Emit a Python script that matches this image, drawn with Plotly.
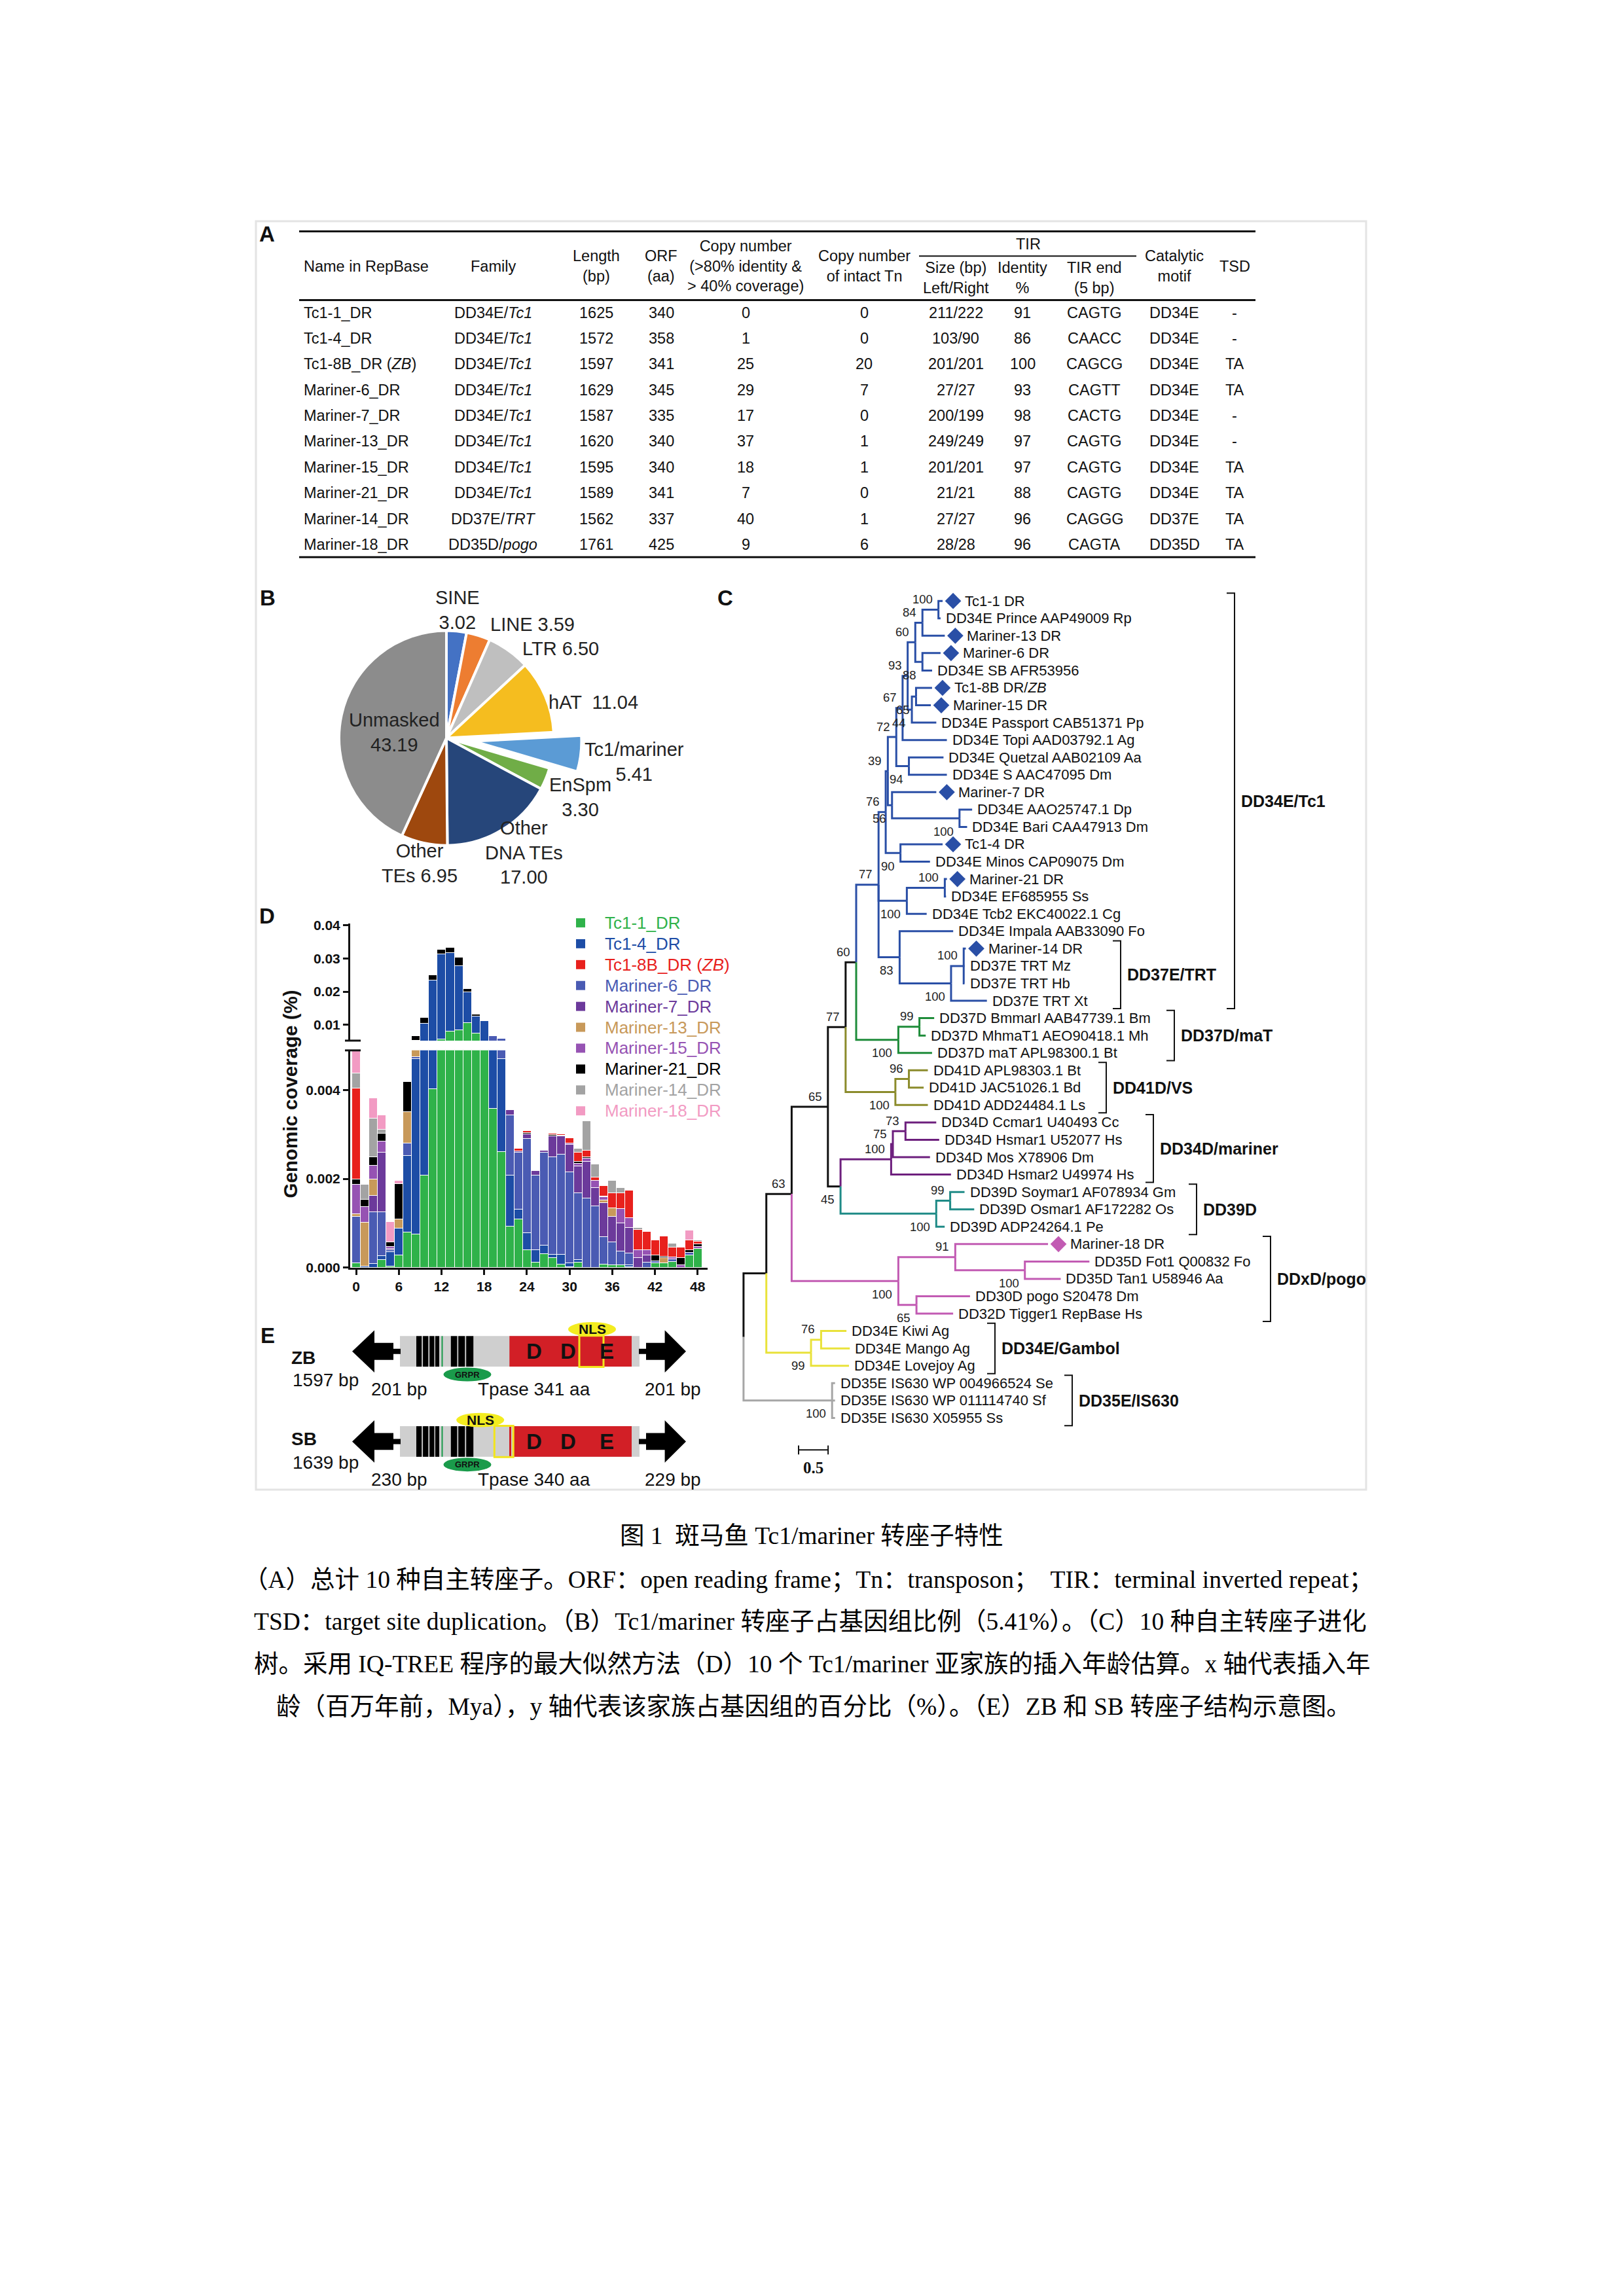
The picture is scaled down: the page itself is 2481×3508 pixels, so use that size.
import plotly.graph_objects as go

W, H = 2481, 3508
SANS = "Liberation Sans, Arial, sans-serif"
SERIF = "Liberation Serif, Times New Roman, Noto Sans CJK SC, serif"
INK = "#111111"

# ======================= Panel A : table data =======================
tbl_names = ["Tc1-1_DR", "Tc1-4_DR", "Tc1-8B_DR (<i>ZB</i>)", "Mariner-6_DR", "Mariner-7_DR",
             "Mariner-13_DR", "Mariner-15_DR", "Mariner-21_DR", "Mariner-14_DR", "Mariner-18_DR"]
tbl_family = ["DD34E/<i>Tc1</i>", "DD34E/<i>Tc1</i>", "DD34E/<i>Tc1</i>", "DD34E/<i>Tc1</i>",
              "DD34E/<i>Tc1</i>", "DD34E/<i>Tc1</i>", "DD34E/<i>Tc1</i>", "DD34E/<i>Tc1</i>",
              "DD37E/<i>TRT</i>", "DD35D/<i>pogo</i>"]
tbl_length = [1625, 1572, 1597, 1629, 1587, 1620, 1595, 1589, 1562, 1761]
tbl_orf = [340, 358, 341, 345, 335, 340, 340, 341, 337, 425]
tbl_copy = [0, 1, 25, 29, 17, 37, 18, 7, 40, 9]
tbl_intact = [0, 0, 20, 7, 0, 1, 1, 0, 1, 6]
tbl_tir_size = ["211/222", "103/90", "201/201", "27/27", "200/199", "249/249", "201/201", "21/21", "27/27", "28/28"]
tbl_tir_ident = [91, 86, 100, 93, 98, 97, 97, 88, 96, 96]
tbl_tir_end = ["CAGTG", "CAACC", "CAGCG", "CAGTT", "CACTG", "CAGTG", "CAGTG", "CAGTG", "CAGGG", "CAGTA"]
tbl_motif = ["DD34E", "DD34E", "DD34E", "DD34E", "DD34E", "DD34E", "DD34E", "DD34E", "DD37E", "DD35D"]
tbl_tsd = ["-", "-", "TA", "TA", "-", "-", "TA", "TA", "TA", "TA"]

# ======================= Panel B : pie data =======================
pie_labels = ["SINE", "LINE", "LTR", "hAT", "Tc1/mariner", "EnSpm", "Other DNA TEs", "Other TEs", "Unmasked"]
pie_values = [3.02, 3.59, 6.50, 11.04, 5.41, 3.30, 17.00, 6.95, 43.19]
pie_colors = ["#4472c4", "#ed7d31", "#bfbfbf", "#f5bd1f", "#5b9bd5", "#70ad47", "#26467a", "#9e480e", "#8c8c8c"]
pie_pull = [0, 0, 0, 0, 0.26, 0, 0, 0, 0]
pie_label_fmt = ["SINE<br>{v}", "LINE {v}", "LTR {v}", "hAT  {v}", "Tc1/mariner<br>{v}",
                 "EnSpm<br>{v}", "Other<br>DNA TEs<br>{v}", "Other<br>TEs {v}", "Unmasked<br>{v}"]

# ======================= Panel D : insertion age (units of 0.001 %) =======================
age_mya = [0.0, 1.2, 2.4, 3.6, 4.8, 6.0, 7.2, 8.4, 9.6, 10.8, 12.0, 13.2, 14.4, 15.6, 16.8, 18.0,
           19.2, 20.4, 21.6, 22.8, 24.0, 25.2, 26.4, 27.6, 28.8, 30.0, 31.2, 32.4, 33.6, 34.8,
           36.0, 37.2, 38.4, 39.6, 40.8, 42.0, 43.2, 44.4, 45.6, 46.8, 48.0]
tc1_1 = [0.11, 0, 0, 0.19, 0.03, 0.28, 0.80, 0.76, 2.09, 4.02, 5.75, 8.17, 8.50, 10.60, 7.40, 5.00,
         3.58, 2.62, 0.94, 1.09, 0.40, 0.13, 0.32, 0.23, 0.08, 0.02, 0.13, 0, 0, 0.08,
         0.06, 0.06, 0.02, 0, 0, 0.11, 0.11, 0.14, 0, 0.28, 0.43]
tc1_4 = [0, 0.04, 0.09, 0.08, 0.33, 0.61, 1.73, 3.94, 8.41, 19.48, 25.65, 23.50, 19.30, 9.30, 5.30, 6.20,
         1.62, 2.08, 1.15, 0.23, 0.39, 0.27, 0.19, 0.07, 0.22, 0.09, 0.05, 0, 0, 0,
         0, 0, 0.04, 0, 0, 0, 0, 0, 0, 0, 0]
tc1_8b = [2.04, 0, 0, 0, 0, 0, 0, 0, 0, 0.20, 0, 0, 0, 0, 0, 0,
          0, 0, 0, 0.05, 0.04, 0, 0, 0.04, 0.03, 0.11, 0.21, 0.14, 0.08, 0.23,
          0.34, 0.35, 0.61, 0.45, 0.40, 0.35, 0.47, 0.23, 0.25, 0.21, 0.07]
mar6 = [1.05, 0, 1.17, 0.99, 0.04, 0, 0.27, 0.05, 0, 0, 0, 0, 0, 0, 0, 0,
        1.47, 1.30, 1.34, 1.28, 2.12, 1.68, 2.09, 2.20, 2.25, 2.05, 1.50, 1.57, 1.39, 0.62,
        0.52, 0.32, 0.27, 0, 0.13, 0.05, 0, 0.06, 0, 0.06, 0]
mar7 = [0, 0, 0.37, 1.34, 0.04, 0, 0, 0, 0, 0, 0, 0, 0, 0, 0, 0,
        0, 0, 0.12, 0.03, 0.10, 0.11, 0.04, 0.46, 0.41, 0.61, 0.61, 0.82, 0.42, 0.77,
        0.58, 0.63, 0.58, 0.22, 0.15, 0, 0, 0, 0, 0, 0]
mar13 = [0.05, 0.98, 0.36, 0, 0, 0.20, 0.71, 0.55, 0, 0, 0, 0, 0, 0, 0, 0,
         0, 0, 0, 0, 0, 0, 0, 0, 0, 0, 0, 0, 0, 0.05,
         0.19, 0, 0, 0, 0, 0, 0.11, 0, 0, 0, 0]
mar15 = [0.66, 0.36, 0.32, 0.25, 0.04, 0, 0, 0, 0, 0, 0, 0, 0, 0, 0, 0,
         0, 0, 0, 0, 0, 0, 0, 0, 0, 0.04, 0.06, 0.07, 0.15, 0.07,
         0, 0.32, 0.22, 0.19, 0.13, 0, 0, 0.04, 0.06, 0, 0.05]
mar21 = [0.13, 0.16, 0.19, 0.18, 0.10, 0.80, 0.68, 1.40, 1.80, 1.50, 1.30, 1.60, 2.50, 1.00, 0.50, 0,
         0, 0, 0, 0, 0.03, 0, 0, 0.03, 0.02, 0, 0.04, 0.04, 0, 0.02,
         0, 0, 0, 0, 0, 0.12, 0.03, 0, 0.16, 0.07, 0.05]
mar14 = [0.34, 0.33, 0.86, 0.08, 0, 0, 0, 0, 0, 0, 0, 0, 0, 0, 0, 0,
         0, 0, 0, 0, 0, 0, 0, 0, 0, 0, 0.09, 0.66, 0.29, 0,
         0.27, 0.13, 0, 0.05, 0, 0, 0, 0.08, 0, 0, 0.02]
mar18 = [0.62, 0, 0.46, 0.33, 0.46, 0.08, 0, 0, 0, 0, 0, 0, 0, 0, 0, 0,
         0, 0, 0, 0, 0, 0, 0, 0, 0, 0, 0, 0, 0, 0,
         0, 0, 0, 0, 0, 0, 0, 0, 0, 0.23, 0]
UNIT = 0.001  # values above are in units of 0.001 %

series = {  # name: (values, colour)
    "Tc1-1_DR": (tc1_1, "#2fb24a"),
    "Tc1-4_DR": (tc1_4, "#1d4da6"),
    "Tc1-8B_DR (<i>ZB</i>)": (tc1_8b, "#e8211d"),
    "Mariner-6_DR": (mar6, "#4a5bb3"),
    "Mariner-7_DR": (mar7, "#6c3a9b"),
    "Mariner-13_DR": (mar13, "#c8995a"),
    "Mariner-15_DR": (mar15, "#9653b3"),
    "Mariner-21_DR": (mar21, "#000000"),
    "Mariner-14_DR": (mar14, "#a3a3a3"),
    "Mariner-18_DR": (mar18, "#f29bc3"),
}
stack_order = ["Tc1-1_DR", "Tc1-4_DR", "Mariner-6_DR", "Mariner-7_DR", "Mariner-13_DR",
               "Mariner-15_DR", "Mariner-21_DR", "Tc1-8B_DR (<i>ZB</i>)", "Mariner-14_DR", "Mariner-18_DR"]
legend_order = list(series.keys())

# ======================= Panel C : tree (branch lengths, bootstrap) =======================
def tip(name, bl, dr=False):
    return {"name": name, "bl": bl, "dr": dr, "kids": []}

def node(bl, sup, pos, kids, clade=None):
    return {"bl": bl, "sup": sup, "pos": pos, "kids": kids, "clade": clade}

TREE = node(0.0, None, "a", [
    node(0.386, None, "a", [
        node(0.429, 63, "a", [
            node(0.614, 65, "a", [
                node(0.300, 77, "a", [
                    node(0.179, 60, "a", [
                        node(0.379, 77, "a", [
                            node(0.121, 76, "a", [
                                node(0.036, 39, "a", [
                                    node(0.143, 72, "a", [
                                        node(0.107, 67, "a", [
                                            node(0.086, 93, "a", [
                                                node(0.129, 60, "a", [
                                                    node(0.121, 84, "a", [
                                                        node(0.271, 100, "a", [
                                                            tip("Tc1-1 DR", 0.071, True),
                                                            tip("DD34E Prince AAP49009 Rp", 0.036)]),
                                                        tip("Mariner-13 DR", 0.379, True)]),
                                                    node(0.121, 88, "b", [
                                                        tip("Mariner-6 DR", 0.307, True),
                                                        tip("DD34E SB AFR53956", 0.164)])]),
                                                node(0.071, 44, "b", [
                                                    node(0.071, 65, "b", [
                                                        tip("Tc1-8B DR/<i>ZB</i>", 0.271, True),
                                                        tip("Mariner-15 DR", 0.250, True)]),
                                                    tip("DD34E Passport CAB51371 Pp", 0.414)])]),
                                            tip("DD34E Topi AAD03792.1 Ag", 0.750)]),
                                        node(0.214, 94, "b", [
                                            tip("DD34E Quetzal AAB02109 Aa", 0.586),
                                            tip("DD34E S AAC47095 Dm", 0.643)])]),
                                    node(0.071, 56, "b", [
                                        tip("Mariner-7 DR", 0.750, True),
                                        node(1.143, 100, "b", [
                                            tip("DD34E AAO25747.1 Dp", 0.214),
                                            tip("DD34E Bari CAA47913 Dm", 0.129)])])]),
                                node(0.250, 90, "b", [
                                    tip("Tc1-4 DR", 0.714, True),
                                    tip("DD34E Minos CAP09075 Dm", 0.500)])]),
                            node(0.479, 100, "b", [
                                node(0.643, 100, "a", [
                                    tip("Mariner-21 DR", 0.036, True),
                                    tip("DD34E EF685955 Ss", 0.021)]),
                                tip("DD34E Tcb2 EKC40022.1 Cg", 0.336)]),
                            node(0.357, 83, "b", [
                                tip("DD34E Impala AAB33090 Fo", 0.907),
                                node(0.871, 100, "b", [
                                    node(0.214, 100, "a", [
                                        tip("Mariner-14 DR", 0.036, True),
                                        tip("DD37E TRT Mz", 0.014),
                                        tip("DD37E TRT Hb", 0.014)]),
                                    tip("DD37E TRT Xt", 0.607)])])], clade="tc1"),
                        node(0.714, 100, "b", [
                            node(0.357, 99, "a", [
                                tip("DD37D BmmarI AAB47739.1 Bm", 0.250),
                                tip("DD37D MhmaT1 AEO90418.1 Mh", 0.107)]),
                            tip("DD37D maT APL98300.1 Bt", 0.571)], clade="mat")]),
                    node(0.843, 100, "b", [
                        node(0.229, 96, "a", [
                            tip("DD41D APL98303.1 Bt", 0.321),
                            tip("DD41D JAC51026.1 Bd", 0.250)]),
                        tip("DD41D ADD24484.1 Ls", 0.550)], clade="vs")]),
                node(0.214, 45, "b", [
                    node(0.857, 100, "a", [
                        node(0.029, 75, "a", [
                            node(0.214, 73, "a", [
                                tip("DD34D Ccmar1 U40493 Cc", 0.521),
                                tip("DD34D Hsmar1 U52077 Hs", 0.571)]),
                            tip("DD34D Mos X78906 Dm", 0.629)]),
                        tip("DD34D Hsmar2 U49974 Hs", 1.014)], clade="mariner"),
                    node(1.621, 100, "b", [
                        node(0.236, 99, "a", [
                            tip("DD39D Soymar1 AF078934 Gm", 0.243),
                            tip("DD39D Osmar1 AF172282 Os", 0.407)]),
                        tip("DD39D ADP24264.1 Pe", 0.143)], clade="dd39d")])]),
            node(1.807, 100, "b", [
                node(0.964, 91, "a", [
                    tip("Mariner-18 DR", 1.571, True),
                    node(1.179, 100, "b", [
                        tip("DD35D Fot1 Q00832 Fo", 1.093),
                        tip("DD35D Tan1 U58946 Aa", 0.607)])]),
                node(0.307, 65, "b", [
                    tip("DD30D pogo S20478 Dm", 0.907),
                    tip("DD32D Tigger1 RepBase Hs", 0.621)])], clade="pogo")]),
        node(0.757, 99, "b", [
            node(0.171, 76, "a", [
                tip("DD34E Kiwi Ag", 0.429),
                tip("DD34E Mango Ag", 0.486)]),
            tip("DD34E Lovejoy Ag", 0.643)], clade="gambol")]),
    node(1.500, 100, "b", [
        tip("DD35E IS630 WP 004966524 Se", 0.050),
        tip("DD35E IS630 WP 011114740 Sf", 0.050),
        tip("DD35E IS630 X05955 Ss", 0.050)], clade="is630")])

clade_colors = {None: "#111111", "tc1": "#2a4fa6", "mat": "#1e8c3a", "vs": "#8b8b2b",
                "mariner": "#6d1f7d", "dd39d": "#1f8b87", "pogo": "#c25bb3",
                "gambol": "#e9e23a", "is630": "#a6a6a6"}
brackets = [("DD34E/Tc1", 0, 23), ("DD37E/TRT", 20, 23), ("DD37D/maT", 24, 26), ("DD41D/VS", 27, 29),
            ("DD34D/mariner", 30, 33), ("DD39D", 34, 36), ("DDxD/pogo", 37, 41),
            ("DD34E/Gambol", 42, 44), ("DD35E/IS630", 45, 47)]
bracket_x = [1886, 1712, 1794, 1690, 1762, 1828, 1941, 1520, 1638]
SCALE_BAR = 0.5

# ======================= Panel E : construct data =======================
constructs = [
    {"name": "ZB", "length": 1597, "tir_l": 201, "tir_r": 201, "tpase": 341, "nls": "C"},
    {"name": "SB", "length": 1639, "tir_l": 230, "tir_r": 229, "tpase": 340, "nls": "N"},
]

# ======================= Figure helpers =======================
fig = go.Figure()
ann, shp = [], []
PG = dict(xref="x3", yref="y3")

def text(x, y, s, size, color=INK, family=SANS, xa="center", ya="middle", weight="normal", angle=0):
    ann.append(dict(x=x, y=y, text=s, showarrow=False, xanchor=xa, yanchor=ya, textangle=angle,
                    font=dict(family=family, size=size, color=color, weight=weight), **PG))

def hline(x0, x1, y, color=INK, width=3):
    shp.append(dict(type="line", x0=x0, x1=x1, y0=y, y1=y, line=dict(color=color, width=width), **PG))

def box(x0, y0, x1, y1, fill=None, lc=None, lw=0):
    shp.append(dict(type="rect", x0=x0, x1=x1, y0=y0, y1=y1, fillcolor=fill or "rgba(0,0,0,0)",
                    line=dict(color=lc or "rgba(0,0,0,0)", width=lw), **PG))

def ellipse(cx, cy, rx, ry, fill):
    shp.append(dict(type="circle", x0=cx - rx, x1=cx + rx, y0=cy - ry, y1=cy + ry, fillcolor=fill,
                    line=dict(width=0), **PG))

def path(d, fill=None, lc=None, lw=0):
    shp.append(dict(type="path", path=d, fillcolor=fill or "rgba(0,0,0,0)",
                    line=dict(color=lc or "rgba(0,0,0,0)", width=lw), **PG))

# outer light frame
box(391, 331, 2087, 2280, lc="#e4e4e4", lw=3)

for lab, x, y in [("A", 408, 350), ("B", 409, 910), ("C", 1108, 910), ("D", 408, 1398), ("E", 409, 2043)]:
    text(x, y, lab, 33, weight="bold")

# ======================= Panel A =======================
TFS = 23.5
TY = -4
hline(457, 1918, 350.6 + TY, width=3)
hline(457, 1918, 456.2 + TY, width=3)
hline(457, 1918, 851 + TY, width=3)
hline(1404, 1736, 388.5 + TY, width=2)
text(462, 404 + TY, "Name in RepBase", TFS, xa="left")
text(753, 404 + TY, "Family", TFS)
text(911, 404 + TY, "Length<br>(bp)", TFS)
text(1010, 404 + TY, "ORF<br>(aa)", TFS)
text(1139, 404 + TY, "Copy number<br>(>80% identity &<br>> 40% coverage)", TFS)
text(1320, 404 + TY, "Copy number<br>of intact Tn", TFS)
text(1571, 369.6 + TY, "TIR", TFS)
text(1460, 422 + TY, "Size (bp)<br>Left/Right", TFS)
text(1562, 422 + TY, "Identity<br>%", TFS)
text(1672, 422 + TY, "TIR end<br>(5 bp)", TFS)
text(1794, 404 + TY, "Catalytic<br>motif", TFS)
text(1886, 404 + TY, "TSD", TFS)
col_x = [753, 911, 1010, 1139, 1320, 1460, 1562, 1672, 1794, 1886]
for i in range(len(tbl_names)):
    y = 475.2 + 39.6 * i + TY
    text(462, y, tbl_names[i], TFS, xa="left")
    vals = [tbl_family[i], tbl_length[i], tbl_orf[i], tbl_copy[i], tbl_intact[i], tbl_tir_size[i],
            tbl_tir_ident[i], tbl_tir_end[i], tbl_motif[i], tbl_tsd[i]]
    for cx, v in zip(col_x, vals):
        text(cx, y, str(v), TFS)

# ======================= Panel B =======================
PIE_C, PIE_R = (682, 1125), 165
half = PIE_R * (1 + max(pie_pull))
fig.add_trace(go.Pie(labels=pie_labels, values=pie_values, sort=False, direction="clockwise", rotation=0,
                     pull=pie_pull, textinfo="none", hoverinfo="skip", showlegend=False,
                     marker=dict(colors=pie_colors, line=dict(color="white", width=4)),
                     domain=dict(x=[(PIE_C[0] - half) / W, (PIE_C[0] + half) / W],
                                 y=[1 - (PIE_C[1] + half) / H, 1 - (PIE_C[1] - half) / H])))
pie_label_pos = [(699, 928), (813, 950), (856, 988), (836, 1070), (969, 1162), (886, 1216),
                 (800, 1301), (641, 1318), (602, 1116)]
for i, (x, y) in enumerate(pie_label_pos):
    s = pie_label_fmt[i].format(v="%.2f" % pie_values[i])
    text(x, y, s, 29, color="#222222", xa="left" if i == 3 else "center")

# ======================= Panel C =======================
X0, PXU = 1135.9, 90.2
TIP_Y0, TIP_DY = 914.4, 26.71
counter = [0]

def place(nd, depth, color):
    depth += nd["bl"]
    nd["x"] = X0 + depth * PXU
    nd["col"] = clade_colors[nd["clade"]] if nd.get("clade") else color
    if not nd["kids"]:
        nd["y"] = TIP_Y0 + TIP_DY * counter[0]
        counter[0] += 1
    else:
        for k in nd["kids"]:
            place(k, depth, nd["col"])
        nd["y"] = (nd["kids"][0]["y"] + nd["kids"][-1]["y"]) / 2

place(TREE, 0.0, clade_colors[None])
segs = {}
tips = []

def walk(nd):
    if not nd["kids"]:
        tips.append(nd)
        return
    for k in nd["kids"]:
        segs.setdefault(k["col"], ([], []))
        xs, ys = segs[k["col"]]
        xs += [nd["x"], nd["x"], k["x"], None]
        ys += [nd["y"], k["y"], k["y"], None]
        walk(k)
    if nd["sup"] is not None:
        dy = -16 if nd["pos"] == "a" else 20
        text(nd["x"] - 7, nd["y"] + dy, str(nd["sup"]), 18.5, color="#222222", xa="right")

walk(TREE)
for col, (xs, ys) in segs.items():
    fig.add_trace(go.Scatter(x=xs, y=ys, mode="lines", line=dict(color=col, width=3),
                             hoverinfo="skip", showlegend=False, xaxis="x3", yaxis="y3"))
dx, dy_, dc = [], [], []
LEAF_FS = 22
for t in tips:
    if t["dr"]:
        dx.append(t["x"] + 16)
        dy_.append(t["y"])
        dc.append(t["col"])
        text(t["x"] + 32, t["y"], t["name"], LEAF_FS, xa="left")
    else:
        text(t["x"] + 6, t["y"], t["name"], LEAF_FS, xa="left")
fig.add_trace(go.Scatter(x=dx, y=dy_, mode="markers", marker=dict(symbol="diamond", size=19, color=dc),
                         hoverinfo="skip", showlegend=False, xaxis="x3", yaxis="y3"))
for (lab, i0, i1), bx in zip(brackets, bracket_x):
    y0 = TIP_Y0 + TIP_DY * i0 - 12
    y1 = TIP_Y0 + TIP_DY * i1 + 12
    path(f"M {bx-12},{y0} L {bx},{y0} L {bx},{y1} L {bx-12},{y1}", lc=INK, lw=2)
    text(bx + 8, (y0 + y1) / 2, lab, 25, weight="bold", xa="left")
sb_x0, sb_y = 1220, 2219
sb_x1 = sb_x0 + SCALE_BAR * PXU
path(f"M {sb_x0},{sb_y-7} L {sb_x0},{sb_y+7} M {sb_x0},{sb_y} L {sb_x1},{sb_y} M {sb_x1},{sb_y-7} L {sb_x1},{sb_y+7}",
     lc=INK, lw=2)
text((sb_x0 + sb_x1) / 2, 2246, str(SCALE_BAR), 25, family="Liberation Serif, serif", weight="bold")

# ======================= Panel D =======================
XD0, XD1 = 535, 1081
for nm in stack_order:
    vals, col = series[nm]
    yv = [v * UNIT for v in vals]
    for xa_, ya_ in (("x", "y"), ("x2", "y2")):
        fig.add_trace(go.Bar(x=age_mya, y=yv, width=1.2, marker=dict(color=col, line=dict(color="white", width=1)),
                             hoverinfo="skip", showlegend=False, xaxis=xa_, yaxis=ya_))
tickfont = dict(family=SANS, size=21, color=INK, weight="bold")
axcommon = dict(showgrid=False, zeroline=False, showline=True, linecolor=INK, linewidth=3,
                ticks="outside", ticklen=8, tickwidth=3, tickcolor=INK, tickfont=tickfont, fixedrange=True)
xdom = [XD0 / W, XD1 / W]
xr = [-0.83, 49.4]
text(443, 1672, "Genomic coverage (%)", 29.5, weight="bold", angle=-90)
hline(527, 551, 1605, width=3)
hline(527, 551, 1590, width=3)
for i, nm in enumerate(legend_order):
    y = 1409 + 32.1 * i
    col = series[nm][1]
    box(880, y - 7, 894, y + 7, fill=col)
    text(922, y, nm, 26, color=col, xa="left")

# ======================= Panel E =======================
E_ROW_Y = [2067.5, 2206]
E_NAME_Y = [2077, 2202]
E_LEN_Y = [2112, 2238]
GRAY = "#cfcfcf"
RED = "#d21f26"
for c, yc, ny, ly in zip(constructs, E_ROW_Y, E_NAME_Y, E_LEN_Y):
    box(611, yc - 23.5, 977, yc + 23.5, fill=GRAY)
    path(f"M 538,{yc} L 572,{yc-32.5} L 572,{yc-13} L 601,{yc-13} L 601,{yc-4} L 612,{yc-4} "
         f"L 612,{yc+4} L 601,{yc+4} L 601,{yc+13} L 572,{yc+13} L 572,{yc+32.5} Z", fill="black")
    path(f"M 1048,{yc} L 1015.6,{yc-32.5} L 1015.6,{yc-13} L 987,{yc-13} L 987,{yc-4} L 976,{yc-4} "
         f"L 976,{yc+4} L 987,{yc+4} L 987,{yc+13} L 1015.6,{yc+13} L 1015.6,{yc+32.5} Z", fill="black")
    for b0, b1 in [(636, 644.2), (646.1, 654.3), (656.2, 663.5), (665, 671),
                   (688.8, 698.4), (700.2, 710.3), (712.2, 723.2)]:
        box(b0, yc - 23.5, b1, yc + 23.5, fill="black")
    box(674.5, yc - 23.5, 676.5, yc + 23.5, fill="#1a9b4b")
    if c["nls"] == "C":
        box(778.3, yc - 23.5, 965, yc + 23.5, fill=RED)
        box(885, yc - 24, 922, yc + 24, lc="#f2e51c", lw=3)
        ellipse(904.5, yc - 34, 36.5, 11, "#f3ec20")
        text(904.5, yc - 34, "NLS", 21, weight="bold")
    else:
        box(784.2, yc - 23.5, 965, yc + 23.5, fill=RED)
        box(778, yc - 23.5, 781, yc + 23.5, fill=RED)
        box(755.3, yc - 24, 784.2, yc + 24, lc="#f2e51c", lw=3)
        ellipse(733.7, yc - 33, 36.5, 11, "#f3ec20")
        text(733.7, yc - 33, "NLS", 21, weight="bold")
    ellipse(714, yc + 35.5, 36.5, 10.5, "#1a9b4b")
    text(714, yc + 35.5, "GRPR", 13, weight="bold")
    for lx, L in zip([816.4, 867.8, 927.4], ["D", "D", "E"]):
        text(lx, yc, L, 33, weight="bold")
    text(443, ny, c["name"], 28, weight="bold", xa="left")
    text(444.6, ly, f"{c['length']} bp", 28, xa="left")
    text(565, yc + 58, f"{c['tir_l']} bp", 28, xa="left")
    text(727.8, yc + 58, f"Tpase {c['tpase']} aa", 28, xa="left")
    text(982.5, yc + 58, f"{c['tir_r']} bp", 28, xa="left")

# ======================= Caption =======================
cap_title = "图 1  斑马鱼 Tc1/mariner 转座子特性"
cap_lines = [
    "（A）总计 10 种自主转座子。ORF：open reading frame；Tn：transposon；  TIR：terminal inverted repeat；",
    "TSD：target site duplication。（B）Tc1/mariner 转座子占基因组比例（5.41%）。（C）10 种自主转座子进化",
    "树。采用 IQ-TREE 程序的最大似然方法（D）10 个 Tc1/mariner 亚家族的插入年龄估算。x 轴代表插入年",
    "龄（百万年前，Mya），y 轴代表该家族占基因组的百分比（%）。（E）ZB 和 SB 转座子结构示意图。",
]
cap_x = [370, 386, 386, 420]
text(1240, 2351, cap_title, 37.5, family=SERIF, color="#000000")
for i, s in enumerate(cap_lines):
    text(cap_x[i], 2418 + 65 * i, s, 37.5, family=SERIF, color="#000000", xa="left")

fig.update_layout(
    width=W, height=H, margin=dict(l=0, r=0, t=0, b=0), paper_bgcolor="white",
    plot_bgcolor="rgba(0,0,0,0)", showlegend=False, barmode="stack",
    xaxis=dict(domain=xdom, range=xr, anchor="y", tickvals=[0, 6, 12, 18, 24, 30, 36, 42, 48], **axcommon),
    yaxis=dict(domain=[1 - 1939 / H, 1 - 1605 / H], range=[0, 0.00489], anchor="x",
               tickvals=[0, 0.002, 0.004], ticktext=["0.000", "0.002", "0.004"], **axcommon),
    xaxis2=dict(domain=xdom, range=xr, anchor="y2", visible=False, fixedrange=True),
    yaxis2=dict(domain=[1 - 1590 / H, 1 - 1410 / H], range=[0.00524, 0.0405], anchor="x2",
                tickvals=[0.01, 0.02, 0.03, 0.04], ticktext=["0.01", "0.02", "0.03", "0.04"], **axcommon),
    xaxis3=dict(domain=[0, 1], range=[0, W], anchor="y3", visible=False, fixedrange=True),
    yaxis3=dict(domain=[0, 1], range=[H, 0], anchor="x3", visible=False, fixedrange=True),
    annotations=ann, shapes=shp,
)
fig.write_html("out.html", config={"displayModeBar": False},
               post_script="document.body.style.margin='0px';document.body.style.padding='0px';")
